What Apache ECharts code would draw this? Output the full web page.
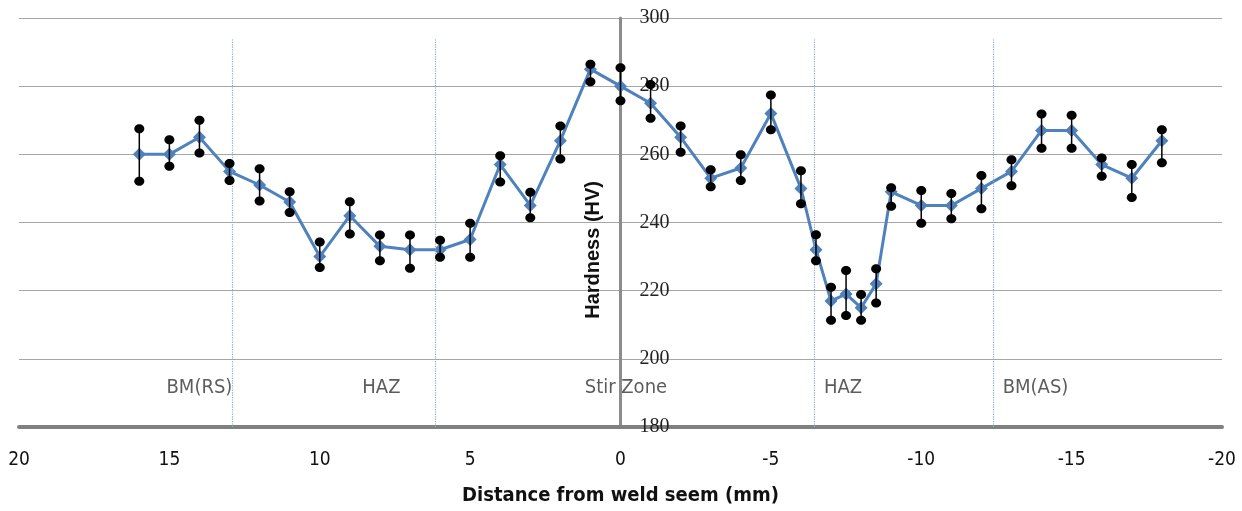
<!DOCTYPE html>
<html>
<head>
<meta charset="utf-8">
<script src="https://cdn.jsdelivr.net/npm/echarts@6/dist/echarts.min.js"></script>
<style>html,body{margin:0;padding:0;background:#fff;overflow:hidden;}#c{width:1242px;height:511px;}</style>
</head>
<body>
<div id="c"></div>
<script>
const distance = [16,15,14,13,12,11,10,9,8,7,6,5,4,3,2,1,0,-1,-2,-3,-4,-5,-6,-6.5,-7,-7.5,-8,-8.5,-9,-10,-11,-12,-13,-14,-15,-16,-17,-18];
const hardness = [260,260,265,255,251,246,230,242,233,232,232,235,257,245,264,285,280,275,265,253,256,272,250,232,217,219,215,222,249,245,245,250,255,267,267,257,253,264];
const upper = [267.5,264.3,270,257.3,255.8,249,234.3,246.1,236.3,236.3,234.8,239.8,259.6,248.9,268.3,286.4,285.4,280.5,268.3,255.5,259.9,277.4,255.2,236.4,221,225.9,218.9,226.4,250.2,249.4,248.5,253.8,258.4,271.8,271.5,258.9,257,267.2];
const lower = [252.1,256.5,260.4,252.3,246.3,242.9,226.8,236.6,228.8,226.6,229.8,229.8,251.9,241.4,258.6,281.3,275.7,270.6,260.6,250.5,252.3,267.2,245.5,228.8,211.3,212.7,211.3,216.4,244.8,239.8,241.1,244,250.8,261.8,261.8,253.6,247.3,257.5];
const zoneBoundaries = [12.9, 6.15, -6.45, -12.4];
const zoneBoundaryTop = 294;
const zoneNames = ['BM(RS)','HAZ','Stir Zone','HAZ','BM(AS)'];
const zoneNameX = [14.0, 7.95, -0.18, -7.4, -13.8];
const zoneNameY = 191.5;
const xTicks = {min: -20, max: 20, interval: 5};
const yTicks = {min: 180, max: 300, interval: 20};

const el = document.getElementById('c');
const chart = echarts.init(el, null, {renderer: 'canvas'});
const lineData = distance.map((d, i) => [d, hardness[i]]);
const errData = distance.map((d, i) => [d, lower[i], upper[i]]);
const zoneData = zoneNames.map((n, i) => [zoneNameX[i], zoneNameY, n]);

const gridLeft = 19, gridRight = 20;
const plotW = chart.getWidth() - gridLeft - gridRight;
const zeroOffset = -plotW * (xTicks.max - 0) / (xTicks.max - xTicks.min);
const narrow = "'Liberation Sans Narrow', 'DejaVu Sans Condensed', sans-serif";

chart.setOption({
  animation: false,
  backgroundColor: '#fff',
  grid: {left: gridLeft, right: gridRight, top: 18, bottom: 82, containLabel: false},
  xAxis: {
    type: 'value', inverse: true,
    min: xTicks.min, max: xTicks.max, interval: xTicks.interval,
    axisLine: {onZero: false, lineStyle: {color: '#808080', width: 4}},
    axisTick: {show: false},
    splitLine: {show: false},
    axisLabel: {margin: 24, fontSize: 19, color: '#111', fontFamily: narrow},
    name: 'Distance from weld seem (mm)',
    nameLocation: 'middle', nameGap: 59,
    nameTextStyle: {fontSize: 20, fontWeight: 'bold', color: '#111', fontFamily: narrow}
  },
  yAxis: {
    type: 'value',
    min: yTicks.min, max: yTicks.max, interval: yTicks.interval,
    offset: zeroOffset,
    axisLine: {show: true, onZero: false, lineStyle: {color: '#8c8c8c', width: 3}},
    axisTick: {show: false},
    axisLabel: {inside: true, margin: 19, fontSize: 20, color: '#222', fontFamily: "'Liberation Serif', serif"},
    splitLine: {show: true, lineStyle: {color: '#a6a6a6', width: 1.2}}
  },
  graphic: [{
    type: 'text', left: 583, top: 181, rotation: Math.PI / 2,
    style: {text: 'Hardness (HV)', fontSize: 20, fontWeight: 'bold', fill: '#111', fontFamily: "'Liberation Sans', sans-serif"},
    z: 10
  }],
  series: [
    {
      type: 'line', data: lineData,
      symbol: 'diamond', symbolSize: 13,
      lineStyle: {color: '#4f81bd', width: 3},
      itemStyle: {color: '#4f81bd'},
      z: 3,
      markLine: {
        silent: true, symbol: 'none', label: {show: false},
        lineStyle: {color: '#8fa7cf', type: 'dotted', width: 1.2},
        data: zoneBoundaries.map(x => [{coord: [x, yTicks.min]}, {coord: [x, zoneBoundaryTop]}])
      }
    },
    {
      type: 'custom', data: errData, z: 5,
      renderItem: function (params, api) {
        const x = api.value(0);
        const lo = api.coord([x, api.value(1)]);
        const hi = api.coord([x, api.value(2)]);
        return {
          type: 'group',
          children: [
            {type: 'line', shape: {x1: lo[0], y1: lo[1], x2: hi[0], y2: hi[1]}, style: {stroke: '#000', lineWidth: 1.5}},
            {type: 'ellipse', shape: {cx: lo[0], cy: lo[1], rx: 5, ry: 4.5}, style: {fill: '#000'}},
            {type: 'ellipse', shape: {cx: hi[0], cy: hi[1], rx: 5, ry: 4.5}, style: {fill: '#000'}}
          ]
        };
      }
    },
    {
      type: 'scatter', data: zoneData, symbolSize: 0, z: 6, silent: true,
      label: {show: true, position: 'inside', formatter: p => p.value[2], fontSize: 20, color: '#333', fontFamily: narrow}
    }
  ]
});
</script>
</body>
</html>
